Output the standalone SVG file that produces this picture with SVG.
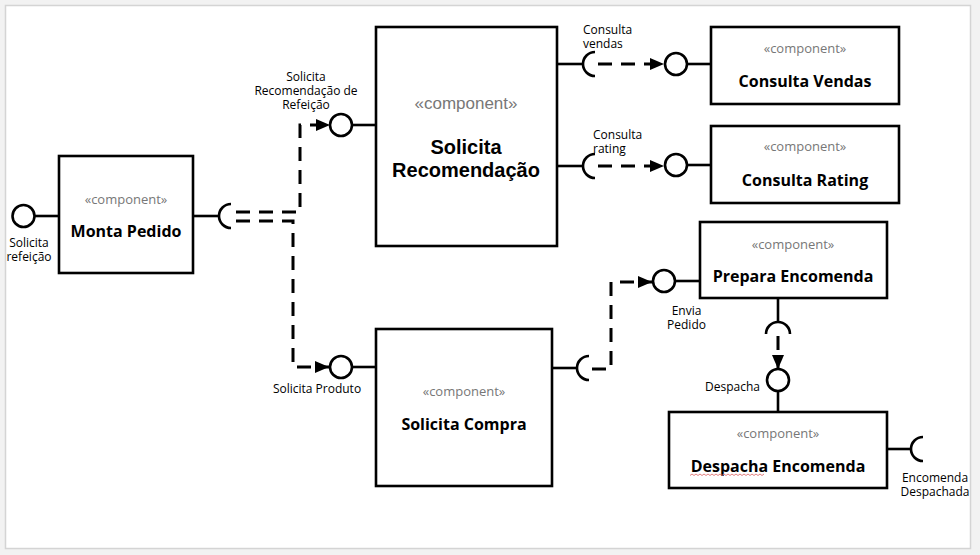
<svg xmlns="http://www.w3.org/2000/svg" width="980" height="555" viewBox="0 0 980 555">
<defs>
<marker id="arr" viewBox="0 0 14 12" refX="14" refY="6" markerWidth="14" markerHeight="12" markerUnits="userSpaceOnUse" orient="auto">
<path d="M0,0 L14,6 L0,12 z" fill="#000"/>
</marker>
<style>
.box{fill:#fff;stroke:#000;stroke-width:2.6}
.ln{fill:none;stroke:#000;stroke-width:2.6}
.lol{fill:#fff;stroke:#000;stroke-width:2.6}
.dash{fill:none;stroke:#000;stroke-width:3;stroke-dasharray:14 9}
.st{font-family:"Open Sans","Noto Sans",sans-serif;font-size:13px;fill:#777;text-anchor:middle}
.nm{font-family:"Open Sans","Noto Sans",sans-serif;font-size:16px;font-weight:bold;fill:#000;text-anchor:middle}
.stA{font-family:"Liberation Sans",Arial,sans-serif;font-size:17px;fill:#777;text-anchor:middle}
.nmA{font-family:"Liberation Sans",Arial,sans-serif;font-size:20px;font-weight:bold;fill:#000;text-anchor:middle}
.lb{font-family:"Open Sans","Noto Sans",sans-serif;font-size:12px;fill:#000}
.c{text-anchor:middle}
.e{text-anchor:end}
</style>
</defs>
<rect x="0" y="0" width="980" height="555" fill="#f2f2f2"/>
<rect x="5.5" y="5.5" width="965" height="543" fill="#fff" stroke="#d4d4d4" stroke-width="1.5"/>

<g id="connectors">
<path class="dash" d="M236,212 H300 V125 H330" marker-end="url(#arr)"/>
<path class="dash" d="M236,221 H293 V367 H329" marker-end="url(#arr)"/>
<path class="dash" d="M598,64 H664" marker-end="url(#arr)"/>
<path class="dash" d="M598,166 H664" marker-end="url(#arr)"/>
<path class="dash" d="M592,369 H611 V282 H652" marker-end="url(#arr)"/>
<path class="dash" d="M778,336 V369" marker-end="url(#arr)"/>
</g>

<g id="monta-pedido">
<rect class="box" x="59" y="156" width="134" height="117"/>
<text class="st" x="126" y="203.5">«component»</text>
<text class="nm" x="126" y="237">Monta Pedido</text>
<line class="ln" x1="35" y1="216" x2="59" y2="216"/>
<circle class="lol" cx="23.5" cy="216" r="11"/>
<text class="lb c" x="29" y="247">Solicita</text>
<text class="lb c" x="29" y="261">refeição</text>
<line class="ln" x1="193" y1="216" x2="219" y2="216"/>
<path class="ln" d="M231,204 A12,12 0 0 0 231,228"/>
</g>

<g id="solicita-recomendacao">
<rect class="box" x="376" y="27" width="181" height="219"/>
<text class="stA" x="466" y="109">«component»</text>
<text class="nmA" x="466" y="154">Solicita</text>
<text class="nmA" x="466" y="177">Recomendação</text>
<line class="ln" x1="352" y1="125" x2="376" y2="125"/>
<circle class="lol" cx="341" cy="125" r="11"/>
<text class="lb c" x="306" y="81">Solicita</text>
<text class="lb c" x="306" y="95">Recomendação de</text>
<text class="lb c" x="306" y="109">Refeição</text>
<line class="ln" x1="557" y1="64" x2="583" y2="64"/>
<path class="ln" d="M595,52 A12,12 0 0 0 595,76"/>
<text class="lb" x="583" y="34">Consulta</text>
<text class="lb" x="583" y="48">vendas</text>
<line class="ln" x1="557" y1="166" x2="583" y2="166"/>
<path class="ln" d="M595,154 A12,12 0 0 0 595,178"/>
<text class="lb" x="593" y="139">Consulta</text>
<text class="lb" x="593" y="153">rating</text>
</g>

<g id="consulta-vendas">
<rect class="box" x="711" y="27" width="188" height="77"/>
<text class="st" x="805" y="52.5">«component»</text>
<text class="nm" x="805" y="86.5">Consulta Vendas</text>
<line class="ln" x1="687" y1="64" x2="711" y2="64"/>
<circle class="lol" cx="676" cy="64" r="11"/>
</g>

<g id="consulta-rating">
<rect class="box" x="711" y="126" width="188" height="77"/>
<text class="st" x="805" y="151">«component»</text>
<text class="nm" x="805" y="185.5">Consulta Rating</text>
<line class="ln" x1="687" y1="165" x2="711" y2="165"/>
<circle class="lol" cx="676" cy="165" r="11"/>
</g>

<g id="solicita-compra">
<rect class="box" x="376" y="329" width="176" height="157"/>
<text class="st" x="464" y="395.5">«component»</text>
<text class="nm" x="464" y="429.5">Solicita Compra</text>
<line class="ln" x1="352" y1="367" x2="376" y2="367"/>
<circle class="lol" cx="341" cy="367" r="11"/>
<text class="lb c" x="317" y="393">Solicita Produto</text>
<line class="ln" x1="552" y1="368" x2="577" y2="368"/>
<path class="ln" d="M589,356 A12,12 0 0 0 589,380"/>
</g>

<g id="prepara-encomenda">
<rect class="box" x="700" y="222" width="187" height="76"/>
<text class="st" x="793" y="248.5">«component»</text>
<text class="nm" x="793" y="281.5">Prepara Encomenda</text>
<line class="ln" x1="675" y1="281" x2="700" y2="281"/>
<circle class="lol" cx="664" cy="281" r="11"/>
<text class="lb c" x="686.5" y="315">Envia</text>
<text class="lb c" x="686.5" y="329">Pedido</text>
<line class="ln" x1="778" y1="298" x2="778" y2="322"/>
<path class="ln" d="M766,334 A12,12 0 0 1 790,334"/>
</g>

<g id="despacha-encomenda">
<rect class="box" x="669" y="412" width="218" height="76"/>
<text class="st" x="778" y="437.5">«component»</text>
<text class="nm" x="778" y="471.5">Despacha Encomenda</text>
<path d="M690,475.5 l2,-1.5 2,1.5 2,-1.5 2,1.5 2,-1.5 2,1.5 2,-1.5 2,1.5 2,-1.5 2,1.5 2,-1.5 2,1.5 2,-1.5 2,1.5 2,-1.5 2,1.5 2,-1.5 2,1.5 2,-1.5 2,1.5 2,-1.5 2,1.5 2,-1.5 2,1.5 2,-1.5 2,1.5 2,-1.5 2,1.5 2,-1.5 2,1.5 2,-1.5 2,1.5 2,-1.5 2,1.5 2,-1.5 2,1.5 2,-1.5" fill="none" stroke="#e07070" stroke-width="0.9"/>
<line class="ln" x1="778" y1="391" x2="778" y2="412"/>
<circle class="lol" cx="778" cy="380" r="11"/>
<text class="lb e" x="760" y="391">Despacha</text>
<line class="ln" x1="887" y1="449" x2="911" y2="449"/>
<path class="ln" d="M923,437 A12,12 0 0 0 923,461"/>
<text class="lb c" x="935" y="482">Encomenda</text>
<text class="lb c" x="935" y="496">Despachada</text>
</g>
</svg>
